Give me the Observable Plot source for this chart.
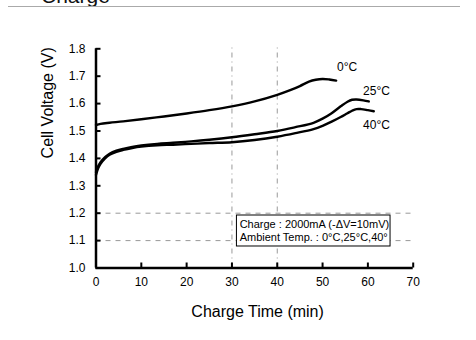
<!DOCTYPE html>
<html>
<head>
<meta charset="utf-8">
<script src="https://cdn.jsdelivr.net/npm/d3@7"></script>
<script src="https://cdn.jsdelivr.net/npm/@observablehq/plot@0.6"></script>
<style>
  html, body { margin: 0; padding: 0; background: #fff; }
  #wrap { position: relative; width: 476px; height: 340px; overflow: hidden; font-family: "Liberation Sans", Arial, sans-serif; }
  #pagetitle { position: absolute; left: 41px; top: -16px; font-size: 21px; line-height: 24px; color: #111; }
  #pagerule { position: absolute; left: 8px; top: 6px; width: 452px; border-top: 1px solid #aaa; }
  #chart { position: absolute; left: 0; top: 0; }
</style>
</head>
<body>
<div id="wrap">
  <div id="pagetitle">Charge</div>
  <div id="pagerule"></div>
  <div id="chart"></div>
</div>
<script>
// Series: charge time (min) and cell voltage (V)
const series = ["0°C", "25°C", "40°C"];
const time0  = [0, 1, 3, 6, 10, 15, 20, 25, 30, 35, 40, 43, 45, 47, 48.5, 50, 51.5, 53];
const volt0  = [1.522, 1.526, 1.530, 1.535, 1.543, 1.553, 1.564, 1.576, 1.590, 1.608, 1.632, 1.650, 1.664, 1.680, 1.687, 1.690, 1.688, 1.684];
const time25 = [0, 0.5, 1, 2, 3, 4.5, 6, 8, 10, 13.5, 17, 21, 25, 30, 35, 40, 44, 48, 50, 52, 54, 55.5, 56.5, 57.5, 59, 60.2];
const volt25 = [1.350, 1.372, 1.386, 1.405, 1.417, 1.428, 1.435, 1.442, 1.447, 1.453, 1.457, 1.462, 1.468, 1.477, 1.488, 1.500, 1.514, 1.530, 1.545, 1.565, 1.590, 1.607, 1.614, 1.615, 1.612, 1.608];
const time40 = [0, 0.5, 1, 2, 3, 4.5, 6, 8, 10, 13.5, 17, 21, 25, 30, 35, 40, 44, 48, 50, 52, 54, 55.5, 56.5, 57.5, 58.5, 60, 61.3];
const volt40 = [1.340, 1.365, 1.380, 1.400, 1.413, 1.424, 1.431, 1.438, 1.443, 1.448, 1.450, 1.453, 1.456, 1.459, 1.467, 1.479, 1.492, 1.507, 1.519, 1.534, 1.551, 1.565, 1.574, 1.580, 1.580, 1.576, 1.572];

// Curve label anchors (data units)
const labelTime = [55.4, 61.9, 61.9];
const labelVolt = [1.733, 1.645, 1.520];

// Axis ticks and titles
const xTicks = [0, 10, 20, 30, 40, 50, 60, 70];
const yTicks = [1.0, 1.1, 1.2, 1.3, 1.4, 1.5, 1.6, 1.7, 1.8];
const xTitle = "Charge Time (min)";
const yTitle = "Cell Voltage (V)";

// Reference grid lines
const gridTimes = [30, 40];
const gridVolts = [1.1, 1.2];

// Condition note
const noteLines = ["Charge : 2000mA (-ΔV=10mV)", "Ambient Temp. : 0°C,25°C,40°"];

const rows = [];
[[time0, volt0], [time25, volt25], [time40, volt40]].forEach(([ts, vs], i) => {
  ts.forEach((t, j) => rows.push({series: series[i], t, v: vs[j]}));
});
const labels = series.map((s, i) => ({series: s, t: labelTime[i], v: labelVolt[i]}));
const notes = noteLines.map((text, i) => ({text, i}));

const chart = Plot.plot({
  width: 476,
  height: 340,
  marginLeft: 95.5,
  marginRight: 63.3,
  marginTop: 48.3,
  marginBottom: 72.5,
  style: {fontFamily: "'Liberation Sans', Arial, sans-serif", color: "#000", background: "transparent"},
  x: {domain: [0, 70]},
  y: {domain: [1.0, 1.8]},
  marks: [
    Plot.ruleX(gridTimes, {y1: 1.0, y2: 1.812, stroke: "#999", strokeWidth: 1, strokeDasharray: "5,4,1,4"}),
    Plot.ruleY(gridVolts, {x1: 0, x2: 70, stroke: "#999", strokeWidth: 1, strokeDasharray: "5,5"}),
    Plot.line(rows, {x: "t", y: "v", z: "series", stroke: "#000", strokeWidth: 2.4, curve: "catmull-rom"}),
    Plot.text(labels, {x: "t", y: "v", text: "series", fontSize: 12, fill: "#000"}),
    Plot.rect([0], {x1: 31.1, x2: 65.0, y1: 1.0785, y2: 1.1916, fill: "#fff", stroke: "#000", strokeWidth: 1}),
    Plot.text(notes, {x: 31.7, y: d => 1.16 - d.i * 0.0475, text: "text", textAnchor: "start", fontSize: 11, fill: "#000"}),
    Plot.ruleX([0], {y1: 1.0, y2: 1.8, stroke: "#000", strokeWidth: 2.5}),
    Plot.ruleY([1.0], {x1: 0, x2: 70, stroke: "#000", strokeWidth: 2.5}),
    Plot.axisX({ticks: xTicks, tickFormat: d => String(d), tickSize: -5, tickPadding: 14, strokeWidth: 2, fontSize: 12, label: null}),
    Plot.axisY({ticks: yTicks, tickFormat: d3.format(".1f"), tickSize: -5, tickPadding: 15.5, strokeWidth: 2, fontSize: 12, label: null}),
    Plot.text([yTitle], {frameAnchor: "left", rotate: -90, dx: -48, fontSize: 16, fill: "#000"}),
    Plot.text([xTitle], {frameAnchor: "bottom", dy: 49, dx: 3, fontSize: 16, fill: "#000"})
  ]
});
document.getElementById("chart").appendChild(chart);
</script>
</body>
</html>
